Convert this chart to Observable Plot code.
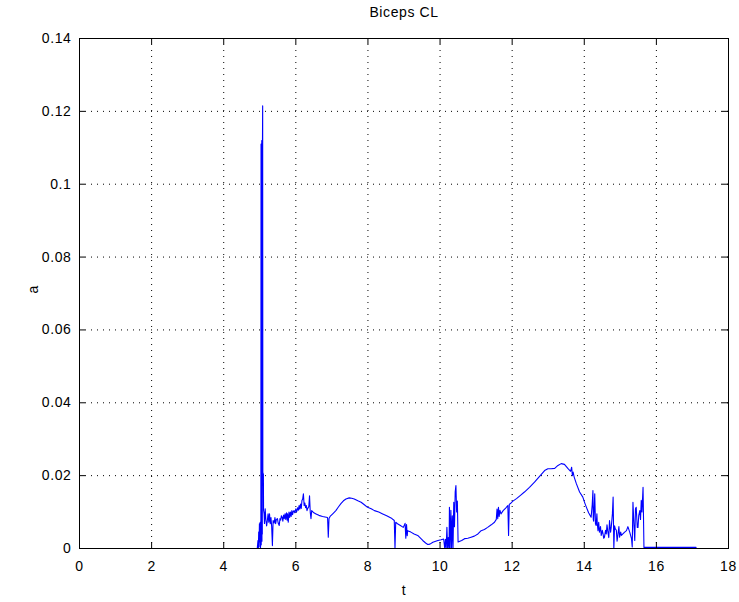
<!DOCTYPE html>
<html>
<head>
<meta charset="utf-8">
<script src="https://cdn.jsdelivr.net/npm/d3@7"></script>
<script src="https://cdn.jsdelivr.net/npm/@observablehq/plot@0.6"></script>
<style>
  html, body { margin: 0; padding: 0; background: #fff; }
  #chart svg { display: block; }
</style>
</head>
<body>
<div id="chart"></div>
<script>
// Biceps CL acceleration trace: time (s) and acceleration value
const tSec = [
  4.93, 4.95, 4.96, 4.97, 4.98, 4.99, 5.00, 5.01, 5.02, 5.03,
  5.035, 5.04, 5.045, 5.05, 5.055, 5.06, 5.065, 5.07, 5.075, 5.08, 5.085,
  5.09, 5.10, 5.105, 5.12, 5.13, 5.15, 5.17,
  5.19, 5.21, 5.23, 5.25, 5.27, 5.29, 5.31, 5.33, 5.35, 5.37, 5.40, 5.42,
  5.44, 5.46, 5.49, 5.51, 5.54, 5.56, 5.58, 5.60, 5.62, 5.64, 5.66, 5.68,
  5.70, 5.72, 5.74, 5.76, 5.77, 5.79, 5.81, 5.83, 5.85, 5.87, 5.89, 5.91,
  5.93, 5.95, 5.97, 6.00, 6.02, 6.05, 6.07, 6.09, 6.11, 6.13, 6.15, 6.17,
  6.19, 6.21, 6.23, 6.25, 6.27, 6.29, 6.31, 6.33, 6.36, 6.38, 6.40, 6.42,
  6.44, 6.50, 6.56, 6.64, 6.74, 6.88, 6.90, 6.92, 6.95, 7.03, 7.11, 7.18,
  7.25, 7.32, 7.39, 7.48, 7.55, 7.62, 7.72, 7.81, 7.90, 7.99, 8.09, 8.18,
  8.30, 8.41, 8.52, 8.64, 8.73, 8.75, 8.77, 8.82, 8.90, 8.98, 9.03, 9.05,
  9.07, 9.09, 9.10, 9.19, 9.28, 9.38, 9.52, 9.60, 9.66, 9.72, 9.80, 9.94,
  10.03, 10.10, 10.13, 10.15, 10.17, 10.19, 10.21, 10.23, 10.25, 10.26,
  10.28, 10.30, 10.32, 10.34, 10.36, 10.38, 10.40, 10.42, 10.44, 10.46,
  10.48, 10.50, 10.60, 10.68, 10.77, 10.86, 10.95, 11.05, 11.14, 11.23,
  11.32, 11.42, 11.51, 11.56, 11.58, 11.60, 11.62, 11.64, 11.66, 11.69,
  11.75, 11.82, 11.88, 11.90, 11.92, 11.97, 12.02, 12.12, 12.23, 12.34,
  12.48, 12.62, 12.76, 12.90, 12.99, 13.08, 13.18, 13.27, 13.36, 13.45,
  13.55, 13.62, 13.65, 13.67, 13.69, 13.72, 13.78, 13.87, 13.96, 14.01,
  14.06, 14.12, 14.19, 14.22, 14.24, 14.25, 14.26, 14.28, 14.29, 14.31, 14.33, 14.35, 14.36,
  14.38, 14.40, 14.42, 14.45, 14.47, 14.50, 14.52, 14.54, 14.56, 14.59, 14.61, 14.63, 14.65, 14.68, 14.70, 14.73, 14.75, 14.78, 14.80,
  14.82, 14.84, 14.86, 14.89, 14.91, 14.93, 14.96, 14.98, 15.01, 15.03, 15.07, 15.12, 15.17, 15.21,
  15.26, 15.31, 15.33, 15.35, 15.38, 15.40, 15.42, 15.44, 15.47, 15.49,
  15.51, 15.54, 15.56, 15.58, 15.60, 15.63, 15.655, 17.10
];

const accel = [
  0, 0.0022, 0, 0.0045, 0.0005, 0.0068, 0.0018, 0.0072, 0, 0.0070,
  0.111, 0.001, 0.111, 0.003, 0.112, 0.002, 0.111, 0.004, 0.112, 0.1215, 0.021,
  0.0205, 0.0205, 0.0105, 0.0095, 0.0069, 0.0109, 0.0077,
  0.0062, 0.0077, 0.0095, 0.0072, 0.0095, 0.0068, 0.0085, 0.0060, 0.0008, 0.0077, 0.0070, 0.0085,
  0.0068, 0.0080, 0.0082, 0.0070, 0.0063, 0.0082, 0.0078, 0.0090, 0.0086, 0.0075, 0.0092, 0.0082,
  0.0095, 0.0080, 0.0098, 0.0078, 0.0095, 0.0072, 0.0100, 0.0085, 0.0100, 0.0088, 0.0104, 0.0093,
  0.0102, 0.0104, 0.0098, 0.0109, 0.0100, 0.0112, 0.0105, 0.0118, 0.0108, 0.0122, 0.0110, 0.0132,
  0.0136, 0.0150, 0.0118, 0.0125, 0.0112, 0.0118, 0.0104, 0.0110, 0.0115, 0.0145, 0.0100, 0.0082,
  0.0104, 0.0098, 0.0095, 0.0091, 0.0088, 0.0085, 0.0031, 0.0082, 0.0088, 0.0096, 0.0104, 0.0114,
  0.0123, 0.0131, 0.0136, 0.0139, 0.0138, 0.0136, 0.0131, 0.0127, 0.0120, 0.0113, 0.0109, 0.0104,
  0.0100, 0.0095, 0.0090, 0.0084, 0.0077, 0.0000, 0.0072, 0.0068, 0.0063, 0.0058, 0.0069, 0.0028,
  0.0066, 0.0035, 0.0049, 0.0045, 0.0040, 0.0036, 0.0022, 0.0015, 0.0011, 0.0012, 0.0017, 0.0022,
  0.0024, 0.0026, 0, 0.0025, 0, 0.0058, 0, 0.0030, 0, 0.0113,
  0, 0.0105, 0, 0.0090, 0, 0.0127, 0.0060, 0.0155, 0.0173, 0.0100,
  0.0130, 0.0018, 0.0022, 0.0027, 0.0028, 0.0031, 0.0034, 0.0040, 0.0049, 0.0052,
  0.0058, 0.0065, 0.0072, 0.0080, 0.0108, 0.0082, 0.0113, 0.0088, 0.0105, 0.0095,
  0.0104, 0.0111, 0.0118, 0.0036, 0.0121, 0.0125, 0.0130, 0.0137, 0.0146, 0.0155,
  0.0168, 0.0182, 0.0198, 0.0214, 0.0219, 0.0219, 0.0220, 0.0228, 0.0233, 0.0231,
  0.0219, 0.0212, 0.0223, 0.0200, 0.0210, 0.0196, 0.0178, 0.0155, 0.0141, 0.0126,
  0.0113, 0.0098, 0.0086, 0.0120, 0.0159, 0.0080, 0.0075, 0.0120, 0.0150, 0.0068, 0.0063, 0.0095, 0.0070,
  0.0049, 0.0072, 0.0045, 0.0060, 0.0036, 0.0050, 0.0040, 0.0028, 0.0031, 0.0050, 0.0040, 0.0065, 0.0049, 0.0030, 0.0077, 0.0045, 0.0060, 0.0095, 0.0141,
  0.0000, 0.0062, 0.0054, 0.0050, 0.0020, 0.0035, 0.0060, 0.0031, 0.0045, 0.0036, 0.0040, 0.0045, 0.0049, 0.0060,
  0.0045, 0.0027, 0.0004, 0.0127, 0.0060, 0.0022, 0.0109, 0.0113, 0.0058, 0.0058,
  0.0090, 0.0104, 0.0080, 0.0132, 0.0100, 0.0168, 0.0003, 0.0003
];

const xTicks = [0, 2, 4, 6, 8, 10, 12, 14, 16, 18];
const yTicks = [0, 0.02, 0.04, 0.06, 0.08, 0.1, 0.12, 0.14];
const xGrid = xTicks.slice(1, -1);
const yGrid = yTicks.slice(1, -1);

const series = tSec.map((t, i) => ({t, a: accel[i]}));

const W = 739, H = 602;
const mL = 79, mR = 11, mT = 38, mB = 54;
const plotW = W - mL - mR, plotH = H - mT - mB;
const tick = 6;

const chart = Plot.plot({
  width: W,
  height: H,
  marginLeft: mL,
  marginRight: mR,
  marginTop: mT,
  marginBottom: mB,
  style: {
    fontFamily: "'Liberation Sans', Arial, sans-serif",
    fontSize: "14px",
    background: "#fff",
    color: "#000",
    letterSpacing: "0.6px"
  },
  x: {domain: [0, 18]},
  y: {domain: [0, 0.14]},
  marks: [
    // dotted grid
    Plot.ruleX(xGrid, {stroke: "#000", strokeWidth: 1, strokeDasharray: "1,5"}),
    Plot.ruleY(yGrid, {stroke: "#000", strokeWidth: 1, strokeDasharray: "1,5"}),
    // the signal
    Plot.line(series, {x: "t", y: "a", stroke: "#0000ff", strokeWidth: 1.1}),
    // box
    Plot.frame({stroke: "#000", strokeWidth: 1}),
    // inward ticks on all four sides
    Plot.ruleX(xTicks, {stroke: "#000", insetTop: plotH - tick}),
    Plot.ruleX(xTicks, {stroke: "#000", insetBottom: plotH - tick}),
    Plot.ruleY(yTicks, {stroke: "#000", insetRight: plotW - tick}),
    Plot.ruleY(yTicks, {stroke: "#000", insetLeft: plotW - tick}),
    // tick labels
    Plot.axisX(xTicks, {tickSize: 0, tickPadding: 13, label: null}),
    Plot.axisY(yTicks, {tickSize: 0, tickPadding: 8, label: null, tickFormat: d => String(d)}),
    // title and axis labels
    Plot.text(["Biceps CL"], {frameAnchor: "top", lineAnchor: "middle", dy: -26, text: d => d, fontSize: 14}),
    Plot.text(["t"], {frameAnchor: "bottom", lineAnchor: "middle", dy: 42, text: d => d, fontSize: 14}),
    Plot.text(["a"], {frameAnchor: "left", lineAnchor: "middle", dx: -46, rotate: -90, text: d => d, fontSize: 14})
  ]
});

document.getElementById("chart").appendChild(chart);
</script>
</body>
</html>
